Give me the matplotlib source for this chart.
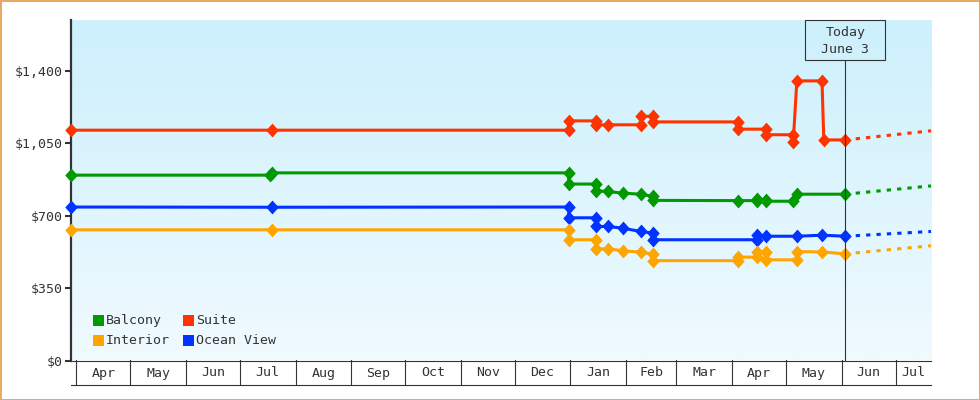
import matplotlib
matplotlib.use('Agg')
import matplotlib.pyplot as plt
import matplotlib.dates as mdates
from matplotlib.colors import LinearSegmentedColormap
from matplotlib.patches import Rectangle
import numpy as np
import pandas as pd

FONT = 'DejaVu Sans Mono'
FS = 9.5
INK = '#333333'

# price history per cabin type (date, price)
suite_dates = ['2018-03-29', '2018-07-19', '2018-12-31', '2018-12-31', '2019-01-15', '2019-01-15',
               '2019-01-22', '2019-02-09', '2019-02-09', '2019-02-16', '2019-02-16', '2019-04-04',
               '2019-04-04', '2019-04-20', '2019-04-20', '2019-05-05', '2019-05-05', '2019-05-07',
               '2019-05-21', '2019-05-22', '2019-06-03']
suite_prices = [1112, 1112, 1112, 1157, 1157, 1138, 1138, 1138, 1179, 1179, 1152, 1152,
                1117, 1117, 1090, 1090, 1057, 1350, 1350, 1065, 1065]

balcony_dates = ['2018-03-29', '2018-07-18', '2018-07-19', '2018-12-31', '2018-12-31', '2019-01-15',
                 '2019-01-15', '2019-01-22', '2019-01-30', '2019-02-09', '2019-02-16', '2019-02-16',
                 '2019-04-04', '2019-04-15', '2019-04-15', '2019-04-20', '2019-04-20', '2019-05-05',
                 '2019-05-07', '2019-06-03']
balcony_prices = [895, 895, 906, 906, 852, 852, 819, 816, 808, 803, 792, 773,
                  772, 772, 779, 776, 769, 769, 803, 803]

ocean_dates = ['2018-03-29', '2018-07-19', '2018-12-31', '2018-12-31', '2019-01-15', '2019-01-15',
               '2019-01-22', '2019-01-30', '2019-02-09', '2019-02-16', '2019-02-16', '2019-04-15',
               '2019-04-15', '2019-04-20', '2019-05-07', '2019-05-21', '2019-06-03']
ocean_prices = [741, 740, 741, 689, 689, 647, 647, 639, 623, 615, 583, 583,
                605, 600, 600, 605, 600]

interior_dates = ['2018-03-29', '2018-07-19', '2018-12-31', '2018-12-31', '2019-01-15', '2019-01-15',
                  '2019-01-22', '2019-01-30', '2019-02-09', '2019-02-16', '2019-02-16', '2019-04-04',
                  '2019-04-04', '2019-04-15', '2019-04-15', '2019-04-20', '2019-04-20', '2019-05-07',
                  '2019-05-07', '2019-05-21', '2019-06-03']
interior_prices = [631, 631, 631, 583, 583, 539, 539, 530, 523, 514, 482, 482,
                   499, 499, 526, 526, 486, 486, 526, 524, 515]

# projected price at the right edge of the chart
forecast_end = {'Suite': 1109, 'Balcony': 843, 'Ocean View': 623, 'Interior': 554}

series_names = ['Balcony', 'Interior', 'Suite', 'Ocean View']
series_colors = {'Balcony': '#009900', 'Interior': '#ffa500', 'Suite': '#ff3300', 'Ocean View': '#0033ff'}
series_data = {
    'Suite': (suite_dates, suite_prices),
    'Balcony': (balcony_dates, balcony_prices),
    'Ocean View': (ocean_dates, ocean_prices),
    'Interior': (interior_dates, interior_prices),
}

x_start = pd.Timestamp('2018-03-29')
x_end = pd.Timestamp('2019-07-20 16:00')
today = pd.Timestamp('2019-06-03')
month_labels = ['Apr', 'May', 'Jun', 'Jul', 'Aug', 'Sep', 'Oct', 'Nov', 'Dec',
                'Jan', 'Feb', 'Mar', 'Apr', 'May', 'Jun', 'Jul']
month_starts = pd.date_range('2018-04-01', '2019-07-01', freq='MS')
y_ticks = [0, 350, 700, 1050, 1400]
y_top = 1644

fig = plt.figure(figsize=(9.8, 4.0), dpi=100, facecolor='white',
                 edgecolor='#e8a866', linewidth=2)
ax = fig.add_axes([71/980, 39.5/400, 860/980, 340.5/400])

# background gradient
grad = LinearSegmentedColormap.from_list('bg', ['#f0faff', '#ccf0fc'])
ax.imshow(np.linspace(0, 1, 256).reshape(-1, 1), cmap=grad, origin='lower',
          extent=[0, 1, 0, 1], transform=ax.transAxes, aspect='auto', zorder=0)

diamond = [(-0.9, 0), (0, 1), (0.9, 0), (0, -1), (-0.9, 0)]
for name in ['Suite', 'Balcony', 'Ocean View', 'Interior']:
    d, p = series_data[name]
    d = pd.to_datetime(d)
    c = series_colors[name]
    ax.plot(d, p, color=c, lw=2.2, marker=diamond, ms=10, mfc=c, mec=c, mew=0,
            zorder=3, clip_on=False, solid_joinstyle='miter')
    ax.plot([d[-1], x_end], [p[-1], forecast_end[name]], color=c, lw=2.2,
            linestyle=(0, (1.4, 2.0)), zorder=3, clip_on=False)

ax.set_xlim(x_start, x_end)
ax.set_ylim(0, y_top)

for s in ['top', 'right']:
    ax.spines[s].set_visible(False)
ax.spines['left'].set_color(INK)
ax.spines['left'].set_linewidth(1.6)
ax.spines['bottom'].set_color(INK)
ax.spines['bottom'].set_linewidth(0.8)
ax.set_xticks([])
ax.set_yticks(y_ticks)
ax.set_yticklabels(['${:,}'.format(v) for v in y_ticks], family=FONT, size=FS, color=INK)
ax.tick_params(axis='y', length=4.3, width=1.5, color=INK, pad=2)

# today marker
x0n, x1n = mdates.date2num(x_start), mdates.date2num(x_end)
ppd = 860 / (x1n - x0n)
tn = mdates.date2num(today)
box_bottom = (360.5 - 60) / 340.5
ax.plot([today, today], [0, box_bottom], color=INK, lw=0.8, zorder=4,
        transform=ax.get_xaxis_transform())
ax.add_patch(Rectangle((tn - 40/ppd, box_bottom), 80/ppd, 1 - box_bottom,
                       transform=ax.get_xaxis_transform(), fc='none', ec=INK,
                       lw=0.8, zorder=4, clip_on=False))
ax.text(today, (360.5 - 41) / 340.5, 'Today\nJune 3', transform=ax.get_xaxis_transform(),
        ha='center', va='center', linespacing=1.35, family=FONT, size=FS, color=INK, zorder=5)

# legend
leg_x = [93, 183]
leg_y = [320.5, 340.5]
for i, name in enumerate(series_names):
    cx = leg_x[i // 2]
    cy = leg_y[i % 2]
    fig.add_artist(Rectangle((cx/980, (400 - cy - 5.5)/400), 11/980, 11/400,
                             transform=fig.transFigure, fc=series_colors[name], ec='none'))
    fig.text((cx + 13)/980, (400 - cy)/400, name, family=FONT, size=FS, color=INK,
             ha='left', va='center')

# month band
ax2 = fig.add_axes([71/980, 15/400, 860/980, 25/400])
ax2.set_xlim(x_start, x_end)
ax2.set_ylim(0, 1)
ax2.patch.set_alpha(0)
for s in ['top', 'left', 'right']:
    ax2.spines[s].set_visible(False)
ax2.spines['bottom'].set_color(INK)
ax2.spines['bottom'].set_linewidth(0.8)
ax2.set_xticks([])
ax2.set_yticks([])
bounds = list(month_starts) + [month_starts[-1] + pd.offsets.MonthBegin(1)]
for i, lab in enumerate(month_labels):
    a = bounds[i]
    b = min(bounds[i + 1], x_end)
    ax2.axvline(a, color=INK, lw=0.8)
    mid = a + (b - a) / 2
    ax2.text(mid, 0.48, lab, ha='center', va='center', family=FONT, size=FS, color=INK)

fig.savefig('out.png', dpi=100)
